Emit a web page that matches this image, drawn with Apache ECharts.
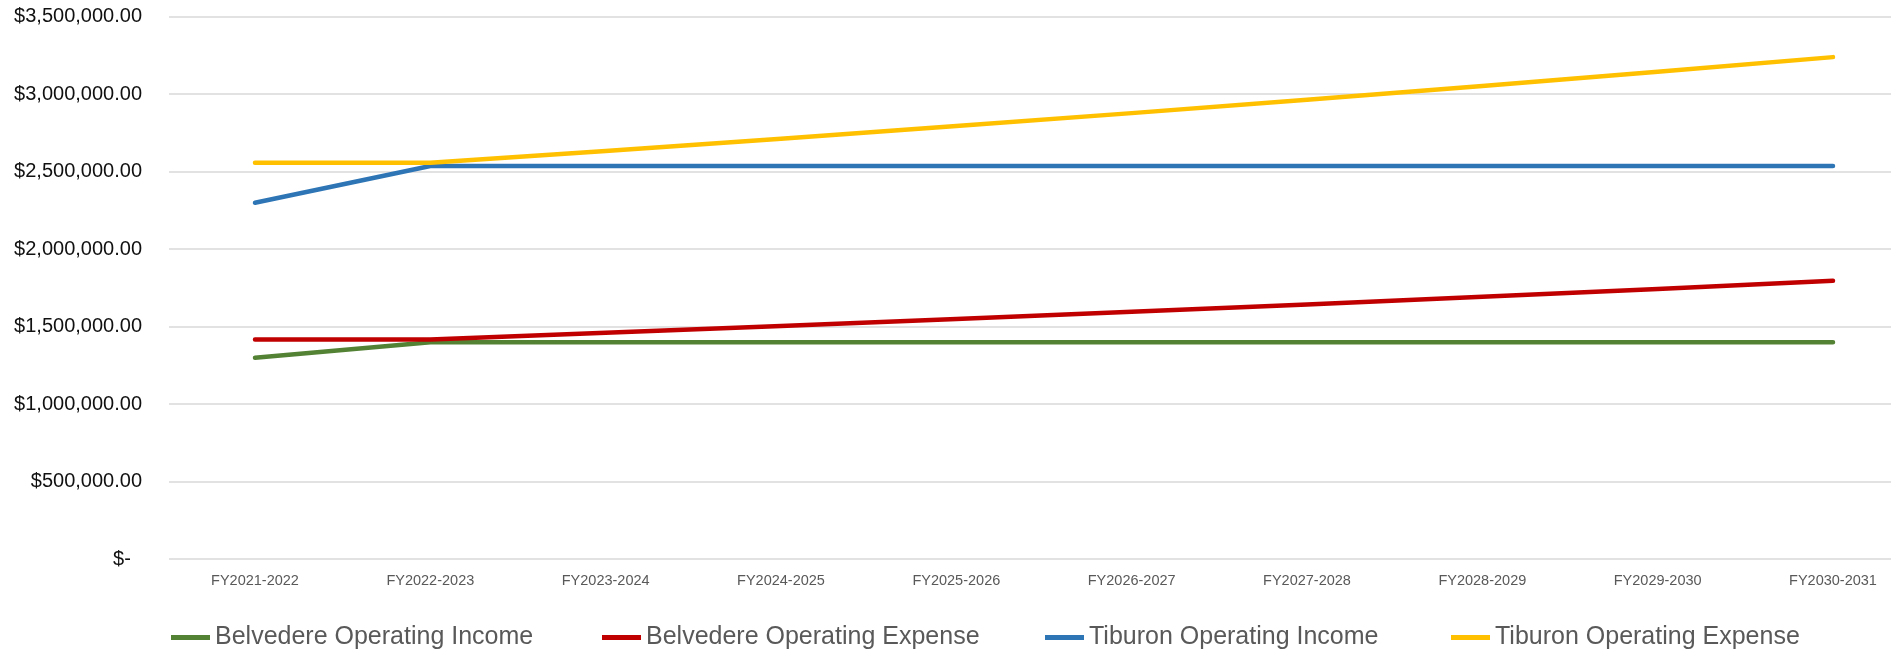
<!DOCTYPE html>
<html>
<head>
<meta charset="utf-8">
<title>Operating Income / Expense</title>
<script src="https://cdn.jsdelivr.net/npm/echarts@6/dist/echarts.min.js"></script>
<style>
	html, body { margin: 0; padding: 0; background: #ffffff; }
	#chart_main { width: 1904px; height: 652px; }
</style>
</head>
<body>
<div id="chart_main"></div>
<script>
	// fiscal years
	var years = ['FY2021-2022', 'FY2022-2023', 'FY2023-2024', 'FY2024-2025', 'FY2025-2026',
		'FY2026-2027', 'FY2027-2028', 'FY2028-2029', 'FY2029-2030', 'FY2030-2031'];

	var series_names = ['Belvedere Operating Income', 'Belvedere Operating Expense', 'Tiburon Operating Income', 'Tiburon Operating Expense'];

	var belvedere_income = [1300000, 1400000, 1400000, 1400000, 1400000, 1400000, 1400000, 1400000, 1400000, 1400000];
	var belvedere_expense = [1418000, 1418000, 1460500, 1504300, 1549500, 1596000, 1643900, 1693200, 1744000, 1796300];
	var tiburon_income = [2300000, 2537000, 2537000, 2537000, 2537000, 2537000, 2537000, 2537000, 2537000, 2537000];
	var tiburon_expense = [2557000, 2557000, 2633700, 2712700, 2794100, 2877900, 2964300, 3053200, 3144800, 3239200];

	var y_ticks = [0, 500000, 1000000, 1500000, 2000000, 2500000, 3000000, 3500000];

	// $3,500,000.00 style, zero shows as "$-"
	function money(v) {
		if (v === 0) return '$-  ';
		return '$' + v.toLocaleString('en-US', {minimumFractionDigits: 2, maximumFractionDigits: 2});
	}

	function make_line(name, data, color) {
		return {
			name: name,
			type: 'line',
			xAxisIndex: 1,
			yAxisIndex: 1,
			data: data,
			showSymbol: false,
			symbol: 'none',
			color: color,
			lineStyle: { width: 4.5, color: color, cap: 'round', join: 'round' }
		}
	}

	// one legend block per entry, so each sits where the original has it
	var legend_left = [166, 597, 1040, 1446];
	var legends = [];
	for (var i = 0; i < series_names.length; i++) {
		legends.push({
			left: legend_left[i],
			top: 620,
			itemWidth: 39,
			itemHeight: 5,
			icon: 'rect',
			textStyle: { color: '#595959', fontSize: 25, fontFamily: 'Liberation Sans' },
			data: [series_names[i]]
		});
	}

	var chart_main = echarts.init(document.getElementById('chart_main'));
	var option_main = {
		animation: false,
		backgroundColor: '#ffffff',
		textStyle: { fontFamily: 'Liberation Sans' },
		grid: [
			// grid 0 only carries the gridlines and the dollar labels
			{ left: 169, right: 13, top: 16.7, bottom: 92.8 },
			// grid 1 carries the lines and year labels
			{ left: 255, right: 71, top: 16.7, bottom: 92.8 }
		],
		xAxis: [
			{ type: 'value', gridIndex: 0, show: false },
			{
				type: 'category',
				gridIndex: 1,
				boundaryGap: false,
				data: years,
				axisLine: { show: false },
				axisTick: { show: false },
				splitLine: { show: false },
				axisLabel: { color: '#595959', fontSize: 14.5, margin: 14, fontFamily: 'Liberation Sans' }
			}
		],
		yAxis: [
			{
				type: 'value',
				gridIndex: 0,
				min: y_ticks[0],
				max: y_ticks[y_ticks.length - 1],
				interval: 500000,
				axisLine: { show: false },
				axisTick: { show: false },
				splitLine: { lineStyle: { color: '#d9d9d9', width: 1.5 } },
				axisLabel: { color: '#111111', fontSize: 20, margin: 27, formatter: money, fontFamily: 'Liberation Sans' }
			},
			{
				type: 'value',
				gridIndex: 1,
				min: y_ticks[0],
				max: y_ticks[y_ticks.length - 1],
				interval: 500000,
				show: false,
				splitLine: { show: false }
			}
		],
		legend: legends,
		series: [
			make_line(series_names[0], belvedere_income, '#548235'),
			make_line(series_names[1], belvedere_expense, '#c00000'),
			make_line(series_names[2], tiburon_income, '#2e75b6'),
			make_line(series_names[3], tiburon_expense, '#ffc000')
		]
	};
	chart_main.setOption(option_main);
</script>
</body>
</html>
